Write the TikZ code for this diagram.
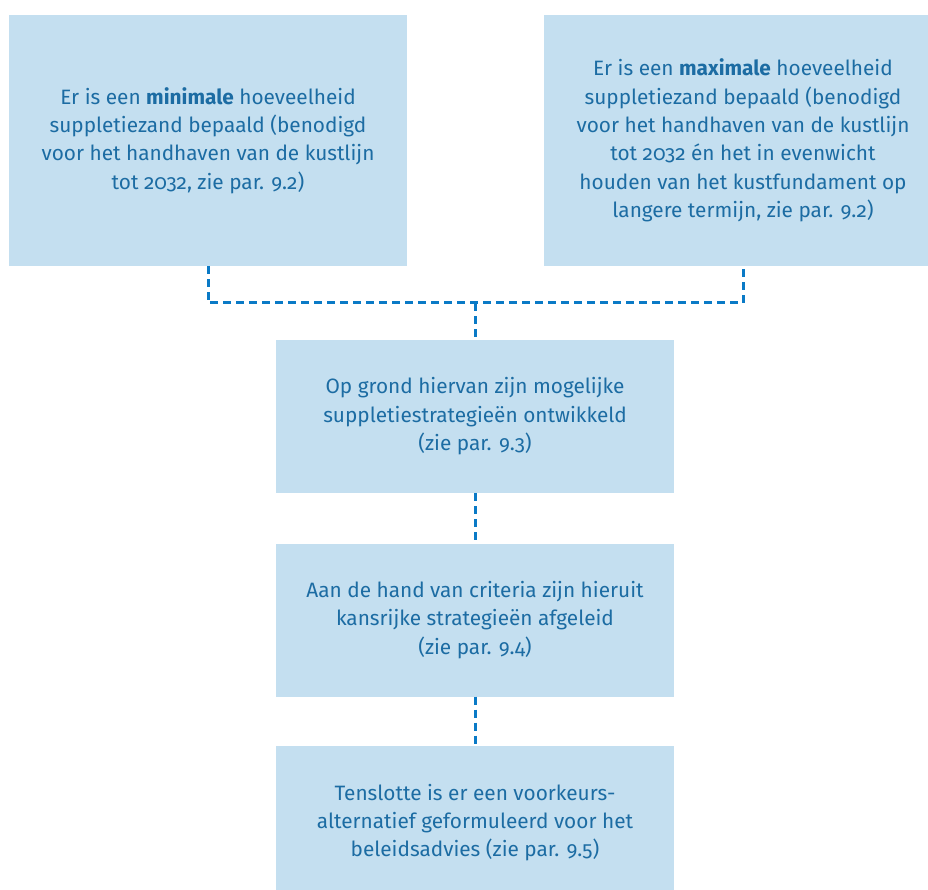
\documentclass[tikz,border=0pt]{standalone}
\usepackage{fontspec}
\setmainfont[Numbers=OldStyle]{Fira Sans}
\usepackage{tikz}
\usetikzlibrary{positioning}
\usepackage{xcolor}
\definecolor{vakblauw}{HTML}{C4DFF0}
\definecolor{tekstblauw}{HTML}{1C6CA3}
\definecolor{lijnblauw}{HTML}{0A7AC6}

\begin{document}
\begin{tikzpicture}[x=1pt, y=-1pt,
        vak/.style={rectangle, fill=vakblauw, minimum width=398pt, inner sep=0pt, align=center, text=tekstblauw, font=\fontsize{20.8}{28.4}\selectfont},
        hoog/.style={vak, minimum height=251pt},
        laag/.style={vak, minimum height=153pt},
        lijn/.style={draw=lijnblauw, line width=3pt, dash pattern=on 8pt off 5pt}
    ]
    \clip (0,0) rectangle (928,890);

    % Bovenste rij: minimale en maximale hoeveelheid
    \node[hoog] (mini) at (208, 140.5) {Er is een \textbf{minimale} hoeveelheid\\suppletiezand bepaald (benodigd\\voor het handhaven van de kustlijn\\tot 2032, zie par. 9.2)};
    \node[hoog] (maxi) at (743, 140.5) {Er is een \textbf{maximale} hoeveelheid\\suppletiezand bepaald (benodigd\\voor het handhaven van de kustlijn\\tot 2032 én het in evenwicht\\houden van het kustfundament op\\langere termijn, zie par. 9.2)};

    % Middenkolom: strategieën
    \node[laag] (strat) at (475, 416.5) {Op grond hiervan zijn mogelijke\\suppletiestrategieën ontwikkeld\\(zie par. 9.3)};
    \node[laag] (kans) at (475, 620) {Aan de hand van criteria zijn hieruit\\kansrijke strategieën afgeleid\\(zie par. 9.4)};
    \node[laag] (advies) at (475, 822.5) {Tenslotte is er een voorkeurs-\\alternatief geformuleerd voor het\\beleidsadvies (zie par. 9.5)};

    % Gestippelde verbindingen
    \coordinate (splits) at (475, 303);
    \draw[lijn] (mini.south) |- (splits) -| (maxi.south);
    \draw[lijn] (splits) -- (strat.north);
    \draw[lijn] (strat.south) -- (kans.north);
    \draw[lijn] (kans.south) -- (advies.north);
\end{tikzpicture}
\end{document}
